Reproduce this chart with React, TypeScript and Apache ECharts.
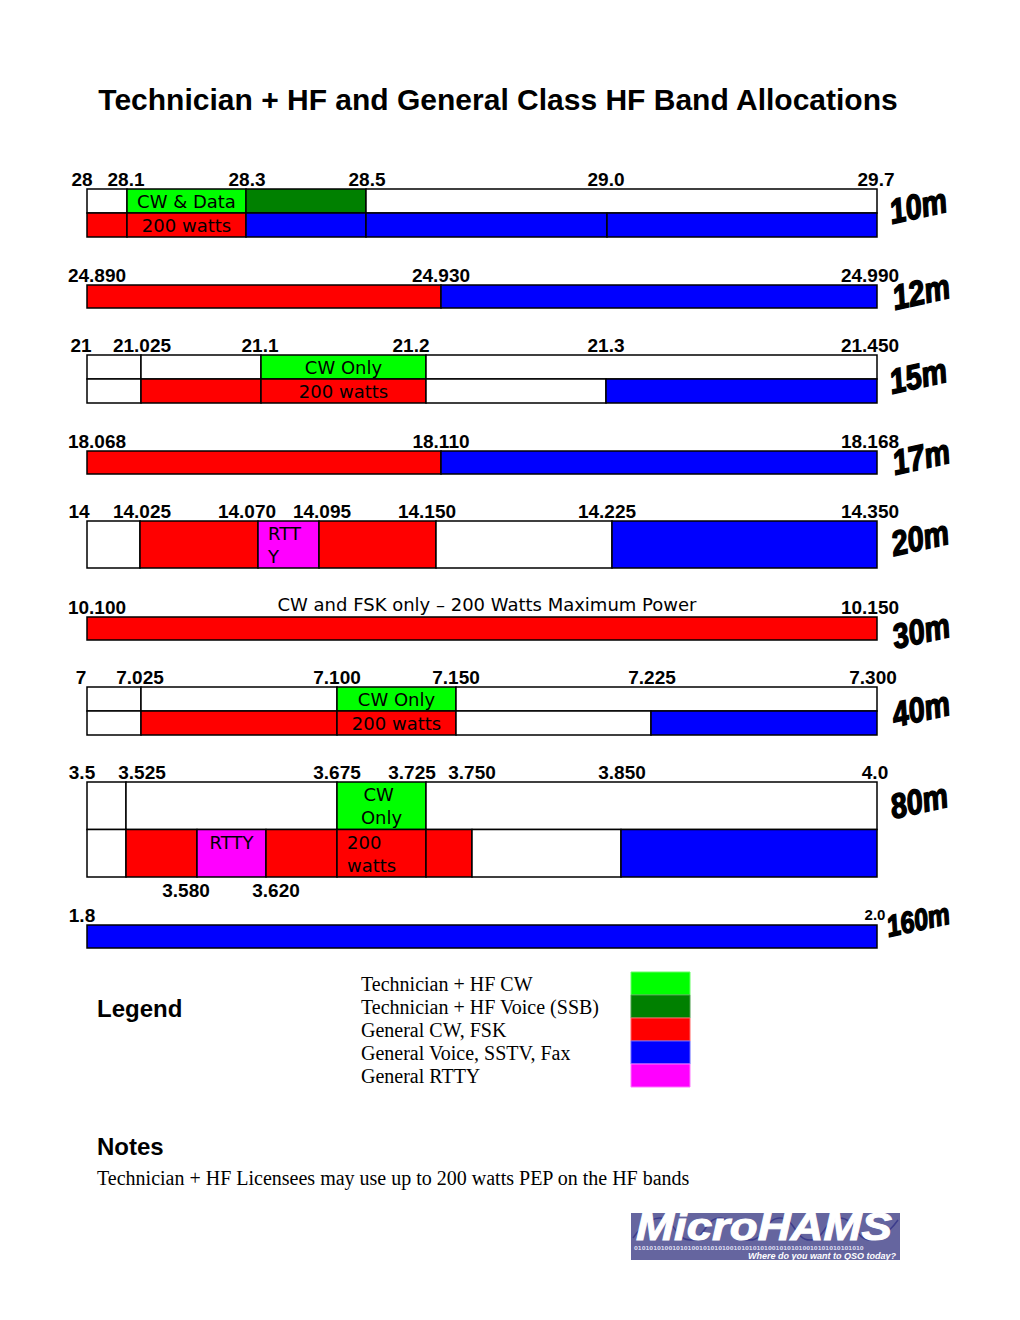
import React, { useEffect, useRef } from "react";
import * as echarts from "echarts";

// ---------- DATA ----------
// Allocation categories
const legendLabels = [
  "Technician + HF CW",
  "Technician + HF Voice (SSB)",
  "General CW, FSK",
  "General Voice, SSTV, Fax",
  "General RTTY",
];
const legendKeys = ["CW", "SSB", "GCW", "GV", "RTTY"];

const bandNames = ["10m", "12m", "15m", "17m", "20m", "30m", "40m", "80m", "160m"];

// Tick labels: [text, position along the (not-to-scale) band diagram, 0..790]
const ticks10m: [string, number][] = [["28", -5], ["28.1", 39], ["28.3", 160], ["28.5", 280], ["29.0", 519], ["29.7", 789]];
const ticks12m: [string, number][] = [["24.890", 10], ["24.930", 354], ["24.990", 783]];
const ticks15m: [string, number][] = [["21", -6], ["21.025", 55], ["21.1", 173], ["21.2", 324], ["21.3", 519], ["21.450", 783]];
const ticks17m: [string, number][] = [["18.068", 10], ["18.110", 354], ["18.168", 783]];
const ticks20m: [string, number][] = [["14", -8], ["14.025", 55], ["14.070", 160], ["14.095", 235], ["14.150", 340], ["14.225", 520], ["14.350", 783]];
const ticks30m: [string, number][] = [["10.100", 10], ["CW and FSK only – 200 Watts Maximum Power", 400], ["10.150", 783]];
const ticks40m: [string, number][] = [["7", -6], ["7.025", 53], ["7.100", 250], ["7.150", 369], ["7.225", 565], ["7.300", 786]];
const ticks80m: [string, number][] = [["3.5", -5], ["3.525", 55], ["3.675", 250], ["3.725", 325], ["3.750", 385], ["3.850", 535], ["4.0", 788]];
const ticks80mBelow: [string, number][] = [["3.580", 99], ["3.620", 189]];
const ticks160m: [string, number][] = [["1.8", -5], ["2.0", 788]];

// Segments: [row, from, to, category, text]
type Seg = [number, number, number, string, string?];
const segs10m: Seg[] = [
  [0, 0, 40, "W"], [0, 40, 159, "CW", "CW & Data"], [0, 159, 279, "SSB"], [0, 279, 790, "W"],
  [1, 0, 40, "GCW"], [1, 40, 159, "GCW", "200 watts"], [1, 159, 279, "GV"], [1, 279, 520, "GV"], [1, 520, 790, "GV"],
];
const segs12m: Seg[] = [[0, 0, 354, "GCW"], [0, 354, 790, "GV"]];
const segs15m: Seg[] = [
  [0, 0, 54, "W"], [0, 54, 174, "W"], [0, 174, 339, "CW", "CW Only"], [0, 339, 790, "W"],
  [1, 0, 54, "W"], [1, 54, 174, "GCW"], [1, 174, 339, "GCW", "200 watts"], [1, 339, 519, "W"], [1, 519, 790, "GV"],
];
const segs17m: Seg[] = [[0, 0, 354, "GCW"], [0, 354, 790, "GV"]];
const segs20m: Seg[] = [
  [0, 0, 53, "W"], [0, 53, 171, "GCW"], [0, 171, 232, "RTTY", "RTTY"], [0, 232, 349, "GCW"], [0, 349, 525, "W"], [0, 525, 790, "GV"],
];
const segs30m: Seg[] = [[0, 0, 790, "GCW"]];
const segs40m: Seg[] = [
  [0, 0, 54, "W"], [0, 54, 250, "W"], [0, 250, 369, "CW", "CW Only"], [0, 369, 790, "W"],
  [1, 0, 54, "W"], [1, 54, 250, "GCW"], [1, 250, 369, "GCW", "200 watts"], [1, 369, 564, "W"], [1, 564, 790, "GV"],
];
const segs80m: Seg[] = [
  [0, 0, 39, "W"], [0, 39, 250, "W"], [0, 250, 339, "CW", "CW Only"], [0, 339, 790, "W"],
  [1, 0, 39, "W"], [1, 39, 110, "GCW"], [1, 110, 179, "RTTY", "RTTY"], [1, 179, 250, "GCW"],
  [1, 250, 339, "GCW", "200 watts"], [1, 339, 385, "GCW"], [1, 385, 534, "W"], [1, 534, 790, "GV"],
];
const segs160m: Seg[] = [[0, 0, 790, "GV"]];

const bandTicks = [ticks10m, ticks12m, ticks15m, ticks17m, ticks20m, ticks30m, ticks40m, ticks80m, ticks160m];
const bandSegs = [segs10m, segs12m, segs15m, segs17m, segs20m, segs30m, segs40m, segs80m, segs160m];
const rowsTwo = ["upper", "lower"];
const rowsOne = ["single"];
const bandRows = [rowsTwo, rowsOne, rowsTwo, rowsOne, rowsOne, rowsOne, rowsTwo, rowsTwo, rowsOne];

const titleText = "Technician + HF and General Class HF Band Allocations";
const noteText = "Technician + HF Licensees may use up to 200 watts PEP on the HF bands";

// ---------- STYLE / LAYOUT ----------
const COLORS: Record<string, string> = {
  W: "#ffffff", CW: "#00ff00", SSB: "#008000", GCW: "#ff0000", GV: "#0000ff", RTTY: "#ff00ff",
};
const SWATCH_BORDER: Record<string, string> = {
  CW: "#66ff66", SSB: "#4d9e4d", GCW: "#ff6666", GV: "#6666ff", RTTY: "#ff77ff",
};
const bandLayout = [
  { top: 189, h: 48, nx: 918, ny: 206, fs: 29 },
  { top: 285, h: 23, nx: 921, ny: 292, fs: 29 },
  { top: 355, h: 48, nx: 918, ny: 376, fs: 29 },
  { top: 451, h: 23, nx: 921, ny: 457, fs: 29 },
  { top: 521, h: 47, nx: 920, ny: 538, fs: 29 },
  { top: 617, h: 23, nx: 921, ny: 631, fs: 29 },
  { top: 687, h: 48, nx: 921, ny: 709, fs: 29 },
  { top: 782, h: 95, nx: 919, ny: 801, fs: 29 },
  { top: 925, h: 23, nx: 918, ny: 920, fs: 25 },
];
const leftAlignedLabels = new Set(["20m:RTTY", "80m:200 watts"]);
const smallTicks = new Set(["160m:2.0"]);
const SANS = '"Liberation Sans", Arial, sans-serif';
const BODY_FONT = '18px "DejaVu Sans", sans-serif';
const SERIF = '"Liberation Serif", "Times New Roman", serif';

function buildOption() {
  const grid = bandLayout.map((l) => ({ left: 87, top: l.top, width: 790, height: l.h }));
  const xAxis = bandLayout.map((_, i) => ({ gridIndex: i, type: "value", min: 0, max: 790, show: false }));
  const yAxis = bandLayout.map((_, i) => ({
    gridIndex: i, type: "category", data: bandRows[i], inverse: true, show: false,
  }));

  const series: any[] = [];
  bandSegs.forEach((segs, bi) => {
    const bandName = bandNames[bi];
    series.push({
      type: "custom",
      name: bandName,
      xAxisIndex: bi,
      yAxisIndex: bi,
      coordinateSystem: "cartesian2d",
      data: segs.map((s) => [s[1], s[2], s[0]]),
      encode: { x: [0, 1], y: 2 },
      renderItem: (params: any, api: any) => {
        const s = segs[params.dataIndex];
        const p0 = api.coord([s[1], s[0]]);
        const p1 = api.coord([s[2], s[0]]);
        const h = api.size([0, 1])[1];
        const x = p0[0];
        const w = p1[0] - p0[0];
        const y = p0[1] - h / 2;
        const children: any[] = [
          {
            type: "rect",
            shape: { x, y, width: w, height: h },
            style: { fill: COLORS[s[3]], stroke: "#000", lineWidth: 1.5 },
          },
        ];
        if (s[4]) {
          const left = leftAlignedLabels.has(bandName + ":" + s[4]);
          children.push({
            type: "text",
            style: {
              text: s[4],
              x: left ? x + 10 : x + w / 2,
              y: y + 1,
              align: left ? "left" : "center",
              verticalAlign: "top",
              font: BODY_FONT,
              fill: "#000",
              width: w - 18,
              overflow: "break",
              lineHeight: 23,
            },
          });
        }
        return { type: "group", children };
      },
    });
  });

  const addTicks = (bi: number, ticks: [string, number][], below: boolean) => {
    series.push({
      type: "custom",
      xAxisIndex: bi,
      yAxisIndex: bi,
      coordinateSystem: "cartesian2d",
      data: ticks.map((t) => [t[1], 0]),
      encode: { x: 0, y: 1 },
      renderItem: (params: any, api: any) => {
        const t = ticks[params.dataIndex];
        const p = api.coord([t[1], 0]);
        const cs = params.coordSys;
        const isNum = /^[\d.]+$/.test(t[0]);
        const small = smallTicks.has(bandNames[bi] + ":" + t[0]);
        return {
          type: "text",
          style: {
            text: t[0],
            x: p[0],
            y: below ? cs.y + cs.height + 13 : cs.y - (isNum ? (small ? 11 : 10) : 13),
            align: "center",
            verticalAlign: "middle",
            font: isNum ? `bold ${small ? 15 : 19}px ${SANS}` : BODY_FONT,
            fill: "#000",
          },
        };
      },
    });
  };
  bandTicks.forEach((t, bi) => addTicks(bi, t, false));
  addTicks(7, ticks80mBelow, true);

  const graphic: any[] = [];
  graphic.push({
    type: "text",
    x: 498, y: 99,
    style: {
      text: titleText, align: "center", verticalAlign: "middle",
      fontFamily: SANS, fontWeight: "bold", fontSize: 30, fill: "#000",
    },
  });
  bandNames.forEach((n, i) => {
    const l = bandLayout[i];
    graphic.push({
      type: "text",
      x: l.nx, y: l.ny, rotation: 0.22, scaleY: 1.2,
      style: {
        text: n, align: "center", verticalAlign: "middle",
        fontFamily: SANS, fontWeight: "bold", fontStyle: "italic",
        fontSize: l.fs, fill: "#000", stroke: "#000", lineWidth: 1.2,
      },
    });
  });
  // Legend
  graphic.push({
    type: "text", x: 97, y: 1008,
    style: { text: "Legend", align: "left", verticalAlign: "middle", fontFamily: SANS, fontWeight: "bold", fontSize: 24, fill: "#000" },
  });
  legendLabels.forEach((lab, i) => {
    graphic.push({
      type: "text", x: 361, y: 984 + i * 23,
      style: { text: lab, align: "left", verticalAlign: "middle", fontFamily: SERIF, fontSize: 20, fill: "#000" },
    });
    graphic.push({
      type: "rect",
      shape: { x: 631, y: 972 + i * 23, width: 59, height: 23 },
      style: { fill: COLORS[legendKeys[i]], stroke: SWATCH_BORDER[legendKeys[i]], lineWidth: 1 },
    });
  });
  // Notes
  graphic.push({
    type: "text", x: 97, y: 1146,
    style: { text: "Notes", align: "left", verticalAlign: "middle", fontFamily: SANS, fontWeight: "bold", fontSize: 24, fill: "#000" },
  });
  graphic.push({
    type: "text", x: 97, y: 1178,
    style: { text: noteText, align: "left", verticalAlign: "middle", fontFamily: SERIF, fontSize: 20, fill: "#000" },
  });
  // Logo
  graphic.push({
    type: "group",
    children: [
      { type: "rect", shape: { x: 631, y: 1213, width: 269, height: 47 }, style: { fill: "#65659f" } },
      {
        type: "polyline",
        shape: { points: [[633, 1238], [660, 1218], [690, 1240], [720, 1218], [750, 1240], [780, 1218], [810, 1240], [840, 1218], [870, 1240], [898, 1220]], smooth: 0.5 },
        style: { stroke: "#3c3c8c", lineWidth: 1.5, fill: null },
      },
      {
        type: "text", x: 636, y: 1227, scaleX: 1.17,
        style: { text: "MicroHAMS", align: "left", verticalAlign: "middle", fontFamily: SANS, fontWeight: "bold", fontStyle: "italic", fontSize: 39, fill: "#ffffff", stroke: "#ffffff", lineWidth: 1 },
      },
      {
        type: "text", x: 634, y: 1248,
        style: { text: "010101010010101001010101001010101010010101010010101010101010", align: "left", verticalAlign: "middle", fontFamily: '"DejaVu Sans", sans-serif', fontWeight: "bold", fontSize: 5.5, fill: "#d8d8ee" },
      },
      {
        type: "text", x: 896, y: 1255.5,
        style: { text: "Where do you want to QSO today?", align: "right", verticalAlign: "middle", fontFamily: SANS, fontWeight: "bold", fontStyle: "italic", fontSize: 9, fill: "#ffffff" },
      },
    ],
  });

  return {
    animation: false,
    backgroundColor: "#ffffff",
    grid, xAxis, yAxis, series, graphic,
  };
}

export default function App() {
  const ref = useRef<HTMLDivElement>(null);
  useEffect(() => {
    if (!ref.current) return;
    const chart = echarts.init(ref.current, undefined, { renderer: "svg" });
    chart.setOption(buildOption() as any);
    return () => chart.dispose();
  }, []);
  return (
    <div
      ref={ref}
      style={{ position: "absolute", left: 0, top: 0, width: 1020, height: 1320, background: "#fff" }}
    />
  );
}
